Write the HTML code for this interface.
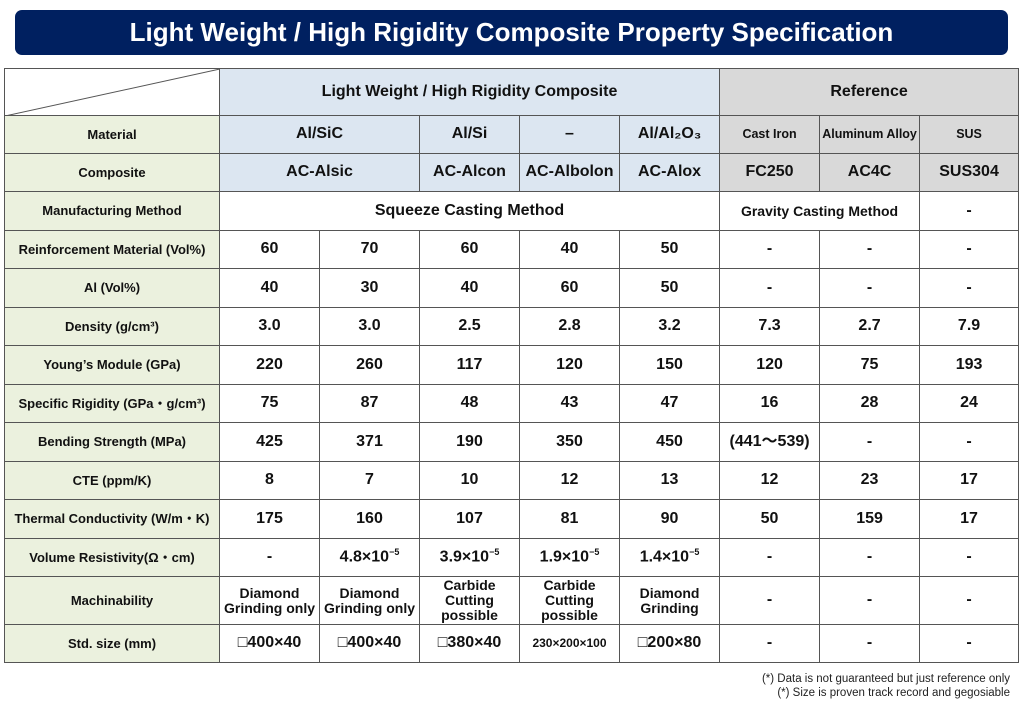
<!DOCTYPE html>
<html><head><meta charset="utf-8"><style>
body{margin:0;width:1024px;height:705px;background:#fff;position:relative;font-family:"Liberation Sans","Noto Sans CJK JP",sans-serif;overflow:hidden}
.title{position:absolute;left:15px;top:10px;width:993px;height:45px;background:#002060;border-radius:7px;color:#fff;font-weight:bold;font-size:26px;text-align:center;line-height:45px}
table{position:absolute;left:4px;top:68px;border-collapse:collapse;table-layout:fixed;width:1014px}
td{border:1.3px solid #555;text-align:center;vertical-align:middle;font-weight:bold;font-size:16px;color:#111;padding:0;line-height:1.05}
td.l{background:#ebf1de;font-size:13px}
.b{background:#dce6f1}
.g{background:#d9d9d9}
.s{font-size:12.5px}
.m{font-size:14px}
sup{font-size:9px}
.note{position:absolute;right:14px;top:672px;font-size:11.5px;text-align:right;line-height:14px;color:#222}
</style></head><body>
<div class="title">Light Weight / High Rigidity Composite Property Specification</div>
<table>
<colgroup><col style="width:215px"><col style="width:100px"><col style="width:100px"><col style="width:100px"><col style="width:100px"><col style="width:100px"><col style="width:100px"><col style="width:100px"><col style="width:99px"></colgroup>
<tr style="height:47px"><td style="position:relative;background:#fff"><svg style="position:absolute;left:0;top:0" width="215" height="47"><line x1="0" y1="47" x2="215" y2="0" stroke="#555" stroke-width="1"/></svg></td><td colspan="5" class="b">Light Weight / High Rigidity Composite</td><td colspan="3" class="g">Reference</td></tr>
<tr style="height:38px"><td class="l">Material</td><td colspan="2" class="b">Al/SiC</td><td class="b">Al/Si</td><td class="b">–</td><td class="b">Al/Al₂O₃</td><td class="g s">Cast Iron</td><td class="g s">Aluminum Alloy</td><td class="g s">SUS</td></tr>
<tr style="height:38px"><td class="l">Composite</td><td colspan="2" class="b">AC-Alsic</td><td class="b">AC-Alcon</td><td class="b">AC-Albolon</td><td class="b">AC-Alox</td><td class="g">FC250</td><td class="g">AC4C</td><td class="g">SUS304</td></tr>
<tr style="height:39px"><td class="l">Manufacturing Method</td><td colspan="5">Squeeze Casting Method</td><td colspan="2" class="m">Gravity Casting Method</td><td>-</td></tr>
<tr style="height:38px"><td class="l">Reinforcement Material (Vol%)</td><td>60</td><td>70</td><td>60</td><td>40</td><td>50</td><td>-</td><td>-</td><td>-</td></tr>
<tr style="height:39px"><td class="l">Al (Vol%)</td><td>40</td><td>30</td><td>40</td><td>60</td><td>50</td><td>-</td><td>-</td><td>-</td></tr>
<tr style="height:38px"><td class="l">Density (g/cm³)</td><td>3.0</td><td>3.0</td><td>2.5</td><td>2.8</td><td>3.2</td><td>7.3</td><td>2.7</td><td>7.9</td></tr>
<tr style="height:39px"><td class="l">Young’s Module (GPa)</td><td>220</td><td>260</td><td>117</td><td>120</td><td>150</td><td>120</td><td>75</td><td>193</td></tr>
<tr style="height:38px"><td class="l">Specific Rigidity (GPa・g/cm³)</td><td>75</td><td>87</td><td>48</td><td>43</td><td>47</td><td>16</td><td>28</td><td>24</td></tr>
<tr style="height:39px"><td class="l">Bending Strength (MPa)</td><td>425</td><td>371</td><td>190</td><td>350</td><td>450</td><td>(441～539)</td><td>-</td><td>-</td></tr>
<tr style="height:38px"><td class="l">CTE (ppm/K)</td><td>8</td><td>7</td><td>10</td><td>12</td><td>13</td><td>12</td><td>23</td><td>17</td></tr>
<tr style="height:39px"><td class="l">Thermal Conductivity (W/m・K)</td><td>175</td><td>160</td><td>107</td><td>81</td><td>90</td><td>50</td><td>159</td><td>17</td></tr>
<tr style="height:38px"><td class="l">Volume Resistivity(Ω・cm)</td><td>-</td><td>4.8×10<sup>−5</sup></td><td>3.9×10<sup>−5</sup></td><td>1.9×10<sup>−5</sup></td><td>1.4×10<sup>−5</sup></td><td>-</td><td>-</td><td>-</td></tr>
<tr style="height:48px"><td class="l">Machinability</td><td class="m">Diamond<br>Grinding only</td><td class="m">Diamond<br>Grinding only</td><td class="m">Carbide<br>Cutting<br>possible</td><td class="m">Carbide<br>Cutting<br>possible</td><td class="m">Diamond<br>Grinding</td><td>-</td><td>-</td><td>-</td></tr>
<tr style="height:38px"><td class="l">Std. size (mm)</td><td>□400×40</td><td>□400×40</td><td>□380×40</td><td style="font-size:12px">230×200×100</td><td>□200×80</td><td>-</td><td>-</td><td>-</td></tr>
</table>
<div class="note">(*) Data is not guaranteed but just reference only<br>(*) Size is proven track record and gegosiable</div>
</body></html>
